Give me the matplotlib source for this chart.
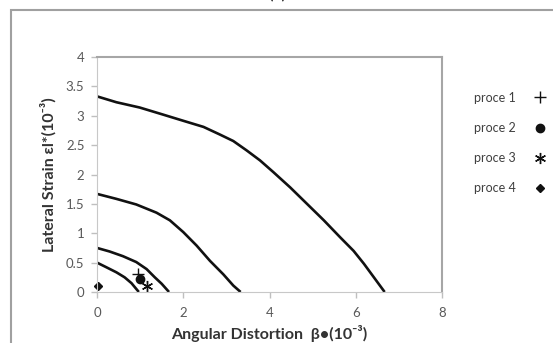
import matplotlib.pyplot as plt
from matplotlib.patches import Rectangle

plt.rcParams['font.family'] = ['Lato', 'DejaVu Sans']

# Limit curves (angular distortion beta, lateral strain eps), units of 1e-3
curve1_b = [0.0, 0.45, 0.99, 1.53, 2.02, 2.47, 2.85, 3.16, 3.47, 3.78, 4.09,
            4.48, 4.87, 5.26, 5.64, 5.95, 6.19, 6.42, 6.67]
curve1_e = [3.33, 3.23, 3.14, 3.02, 2.91, 2.81, 2.68, 2.57, 2.41, 2.24, 2.04,
            1.78, 1.50, 1.22, 0.93, 0.70, 0.48, 0.25, 0.0]
curve2_b = [0.0, 0.45, 0.91, 1.38, 1.69, 2.0, 2.31, 2.62, 2.93, 3.16, 3.33]
curve2_e = [1.67, 1.585, 1.49, 1.35, 1.22, 1.02, 0.79, 0.53, 0.30, 0.11, 0.0]
curve3_b = [0.0, 0.29, 0.6, 0.91, 1.15, 1.34, 1.5, 1.67]
curve3_e = [0.75, 0.69, 0.61, 0.51, 0.39, 0.25, 0.14, 0.0]
curve4_b = [0.0, 0.22, 0.45, 0.64, 0.8, 0.97]
curve4_e = [0.5, 0.42, 0.335, 0.25, 0.15, 0.0]

# Measured points
proc_names = ['proce 1', 'proce 2', 'proce 3', 'proce 4']
proc_b = [0.95, 0.99, 1.15, 0.03]
proc_e = [0.30, 0.22, 0.11, 0.11]
proc_markers = ['+', 'o', (6, 2, 0), 'D']
proc_sizes = [9, 6, 8, 4.5]

fig = plt.figure(figsize=(5.53, 3.43), dpi=100)
fig.patches.append(Rectangle((11 / 553, -0.1), 1.2, 1 - 10 / 343 + 0.1,
                             transform=fig.transFigure, fill=False,
                             edgecolor='#a0a0a0', linewidth=1.5))
fig.text(277 / 553, 1 - 2 / 343, '(b)', ha='center', va='bottom', fontsize=12)

ax = fig.add_axes([97 / 553, 51 / 343, 345 / 553, 235 / 343])

for b, e in [(curve1_b, curve1_e), (curve2_b, curve2_e),
             (curve3_b, curve3_e), (curve4_b, curve4_e)]:
    ax.plot(b, e, color='#111111', linewidth=1.9, solid_capstyle='butt')

handles = []
for name, b, e, m, s in zip(proc_names, proc_b, proc_e, proc_markers, proc_sizes):
    h, = ax.plot([b], [e], linestyle='none', marker=m, markersize=s,
                 color='#111111', markeredgewidth=1.0, label=name, clip_on=False)
    handles.append(h)

ax.set_xlim(0, 8)
ax.set_ylim(0, 4)
ax.set_xticks([0, 2, 4, 6, 8])
ax.set_yticks([0, 0.5, 1, 1.5, 2, 2.5, 3, 3.5, 4])
ax.set_yticklabels(['0', '0.5', '1', '1.5', '2', '2.5', '3', '3.5', '4'])
ax.tick_params(colors='#bfbfbf', labelcolor='#595959', labelsize=9.5, length=4,
               width=1)
ax.tick_params(axis='x', pad=7)
ax.tick_params(axis='y', pad=5)
for side in ['left', 'bottom']:
    ax.spines[side].set_color('#c8c8c8')
for side in ['top', 'right']:
    ax.spines[side].set_color('#a6a6a6')
    ax.spines[side].set_linewidth(1.5)

ax.set_xlabel('Angular Distortion  β•(10⁻³)', fontsize=11.5, fontweight='bold',
              color='#333333', labelpad=4)
ax.set_ylabel('Lateral Strain ɛl*(10⁻³)', fontsize=11.5, fontweight='bold',
              color='#333333', labelpad=7)

ax.legend(handles=handles, loc='upper left', bbox_to_anchor=(1.06, 0.90),
          frameon=False, markerfirst=False, fontsize=9, labelspacing=1.45,
          handlelength=1.0, handletextpad=1.4, labelcolor='#404040')

fig.savefig('out.png', dpi=100)
